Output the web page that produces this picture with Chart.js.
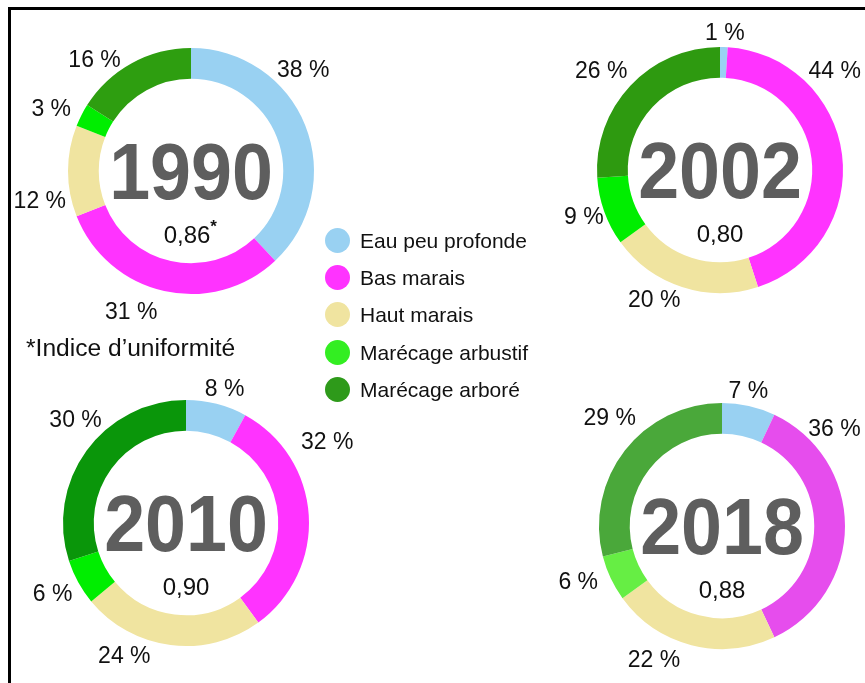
<!DOCTYPE html>
<html>
<head>
<meta charset="utf-8">
<script src="https://cdn.jsdelivr.net/npm/chart.js"></script>
<style>
  body { margin: 0; background: #fff; font-family: "Liberation Sans", Arial, sans-serif; }
  #page { position: relative; width: 865px; height: 683px; overflow: hidden; }
  #frame { position: absolute; left: 8px; top: 7px; width: 870px; height: 690px; border-top: 3px solid #000; border-left: 3px solid #000; }
  canvas { position: absolute; }
  #legend { position: absolute; left: 325px; top: 228px; }
  .item { height: 37.2px; display: flex; align-items: flex-start; font-size: 21px; color: #111; }
  .dot { width: 25px; height: 25px; border-radius: 50%; margin-right: 10px; }
  .item span { line-height: 25px; }
  #note { position: absolute; left: 26px; top: 334px; font-size: 24.6px; color: #111; }
</style>
</head>
<body>
<div id="page">
  <div id="frame"></div>
  <canvas id="c1990" width="360" height="360"></canvas>
  <canvas id="c2002" width="360" height="360"></canvas>
  <canvas id="c2010" width="360" height="360"></canvas>
  <canvas id="c2018" width="360" height="360"></canvas>
  <div id="legend"></div>
  <div id="note">*Indice d’uniformité</div>
</div>
<script>
const categories = ['Eau peu profonde', 'Bas marais', 'Haut marais', 'Marécage arbustif', 'Marécage arboré'];
const years = ['1990', '2002', '2010', '2018'];
const values1990 = [38, 31, 12, 3, 16];
const values2002 = [1, 44, 20, 9, 26];
const values2010 = [8, 32, 24, 6, 30];
const values2018 = [7, 36, 22, 6, 29];
const uniformity = ['0,86', '0,80', '0,90', '0,88'];

// colours differ a little from one year to the next in the original
const legendColors = ['#99d1f2', '#ff33ff', '#f0e4a0', '#33ee22', '#2e9a1a'];
const colors = {
    '1990': ['#99d1f2', '#ff33ff', '#f0e4a0', '#00ee00', '#2e9e10'],
    '2002': ['#99d1f2', '#ff33ff', '#f0e4a0', '#00ee00', '#2e9a10'],
    '2010': ['#99d1f2', '#ff33ff', '#f0e4a0', '#00ee00', '#0a960a'],
    '2018': ['#99d1f2', '#e64ded', '#f0e4a0', '#66ee44', '#4aa83a']
};

// layout: chart centres, label directions (deg clockwise from top) and distances
const centers = { '1990': [191, 171], '2002': [720, 170], '2010': [186, 523], '2018': [722, 526] };
const labelAngles = {
    '1990': [48, 203, 259, 294, 319],
    '2002': [2, 49, 207, 251, 310],
    '2010': [16, 60, 205, 242, 313],
    '2018': [11, 49, 207, 249, 314]
};
const labelDist = {
    '1990': [151, 153, 154, 153, 147],
    '2002': [137, 152, 145, 144, 155],
    '2010': [140, 163, 146, 151, 151],
    '2018': [138, 149, 150, 154, 156]
};

const SIZE = 360;
const RADIUS = 123;

const ringText = {
    id: 'ringText',
    afterDraw(chart, args, opts) {
        const ctx = chart.ctx;
        const meta = chart.getDatasetMeta(0);
        const cx = meta.data[0].x, cy = meta.data[0].y;
        ctx.save();
        // big year
        ctx.fillStyle = '#5e5e5e';
        ctx.font = 'bold 80px "Liberation Sans", Arial, sans-serif';
        ctx.textAlign = 'center';
        ctx.textBaseline = 'alphabetic';
        ctx.save();
        ctx.translate(cx, cy + 28);
        ctx.scale(0.92, 1);
        ctx.fillText(opts.year, 0, 0);
        ctx.restore();
        // uniformity index
        ctx.fillStyle = '#111';
        ctx.font = '24px "Liberation Sans", Arial, sans-serif';
        const txt = opts.index;
        if (opts.star) {
            const w = ctx.measureText(txt).width;
            ctx.textAlign = 'left';
            ctx.fillText(txt, cx - (w + 8) / 2, cy + 72);
            ctx.font = 'bold 17px "Liberation Sans", Arial, sans-serif';
            ctx.fillText('*', cx - (w + 8) / 2 + w, cy + 61);
        } else {
            ctx.fillText(txt, cx, cy + 72);
        }
        // percentage labels
        ctx.font = '23px "Liberation Sans", Arial, sans-serif';
        ctx.textAlign = 'center';
        ctx.textBaseline = 'middle';
        const vals = chart.data.datasets[0].data;
        meta.data.forEach((arc, i) => {
            const a = opts.angles[i] * Math.PI / 180;
            const d = opts.dist[i];
            ctx.fillText(vals[i] + ' %', cx + d * Math.sin(a), cy - d * Math.cos(a) + 1);
        });
        ctx.restore();
    }
};

function makeChart(year, values, index) {
    const el = document.getElementById('c' + year);
    el.style.left = (centers[year][0] - SIZE / 2) + 'px';
    el.style.top = (centers[year][1] - SIZE / 2) + 'px';
    return new Chart(el, {
        type: 'doughnut',
        data: {
            labels: categories,
            datasets: [{
                data: values,
                backgroundColor: colors[year],
                borderWidth: 0
            }]
        },
        options: {
            responsive: false,
            animation: false,
            cutout: '75%',
            layout: { padding: (SIZE - 2 * RADIUS) / 2 },
            plugins: {
                legend: { display: false },
                tooltip: { enabled: false },
                ringText: {
                    year: year,
                    index: index,
                    star: year === '1990',
                    angles: labelAngles[year],
                    dist: labelDist[year]
                }
            }
        },
        plugins: [ringText]
    });
}

makeChart('1990', values1990, uniformity[0]);
makeChart('2002', values2002, uniformity[1]);
makeChart('2010', values2010, uniformity[2]);
makeChart('2018', values2018, uniformity[3]);

// shared legend
const legend = document.getElementById('legend');
categories.forEach((c, i) => {
    const row = document.createElement('div');
    row.className = 'item';
    row.innerHTML = '<div class="dot" style="background:' + legendColors[i] + '"></div><span>' + c + '</span>';
    legend.appendChild(row);
});
</script>
</body>
</html>
